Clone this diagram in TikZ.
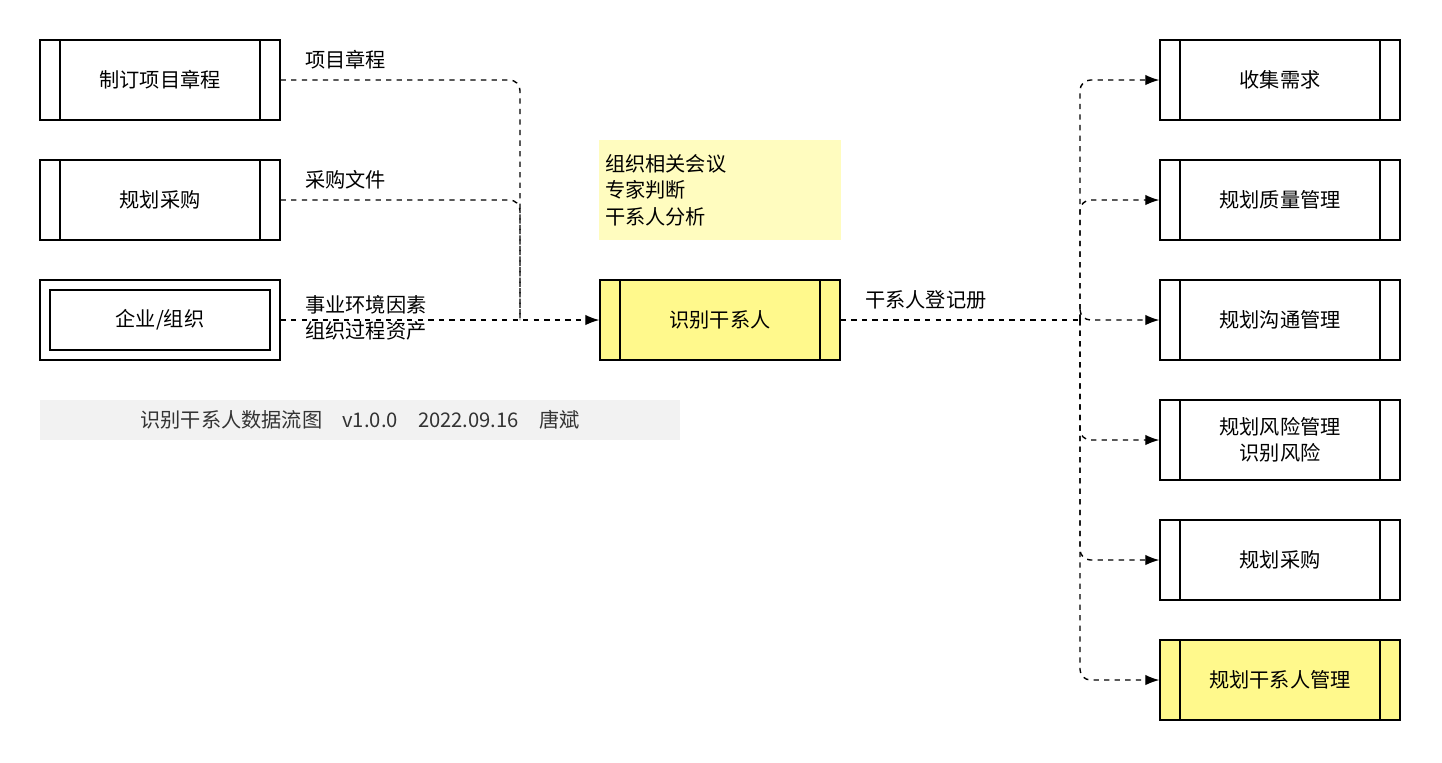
\documentclass[tikz,border=0pt]{standalone}
\usepackage{fontspec}
\setmainfont{Noto Sans CJK SC}
\usetikzlibrary{arrows.meta}

\tikzset{
  procbox/.style={draw, thick, minimum width=4.8cm, minimum height=1.6cm, align=center,
    path picture={
      \draw[thick] ([xshift=0.4cm]path picture bounding box.north west) -- ([xshift=0.4cm]path picture bounding box.south west);
      \draw[thick] ([xshift=-0.4cm]path picture bounding box.north east) -- ([xshift=-0.4cm]path picture bounding box.south east);}},
  hot/.style={fill=yellow!45},
  flow/.style={dashed, thick, rounded corners=6pt, -{Latex[length=8pt,width=6pt]}},
  lbl/.style={anchor=west, align=left, inner sep=0pt}
}

\begin{document}
\begin{tikzpicture}[x=0.02cm, y=-0.02cm, font=\fontsize{11.5}{15}\selectfont]
\useasboundingbox (0,0) rectangle (1442,762);

% inputs
\node[procbox] (charter) at (160,80) {制订项目章程};
\node[procbox] (procure) at (160,200) {规划采购};
\node[draw, thick, minimum width=4.8cm, minimum height=1.6cm] (env) at (160,320) {};
\node[draw, thick, minimum width=4.4cm, minimum height=1.2cm] (envin) at (160,320) {企业/组织};

% process
\node[procbox, hot] (ident) at (720,320) {识别干系人};
\node[fill=yellow!25, minimum width=4.8cm, minimum height=2cm, text width=4.6cm, align=left] (tools) at (720,190)
  {组织相关会议\\专家判断\\干系人分析};

% outputs
\node[procbox] (req) at (1280,80) {收集需求};
\node[procbox] (qual) at (1280,200) {规划质量管理};
\node[procbox] (comm) at (1280,320) {规划沟通管理};
\node[procbox] (risk) at (1280,440) {规划风险管理\\识别风险};
\node[procbox] (proc2) at (1280,560) {规划采购};
\node[procbox, hot] (shm) at (1280,680) {规划干系人管理};

\coordinate (merge) at (520,320);
\coordinate (split) at (1080,320);

\draw[flow, -] (charter.east) -| (merge);
\draw[flow, -] (procure.east) -| (merge);
\draw[flow] (env.east) -- (ident.west);
\draw[flow, -] (ident.east) -- (split);
\foreach \t in {req,qual,comm,risk,proc2,shm}
  \draw[flow] (split) |- (\t.west);

\node[lbl] (l1) at (305,60) {项目章程};
\node[lbl] (l2) at (305,180) {采购文件};
\node[lbl] (l3) at (305,318) {事业环境因素\\组织过程资产};
\node[lbl] (l4) at (865,300) {干系人登记册};

% footer
\node[fill=black!5, minimum width=12.8cm, minimum height=0.8cm, text=black!80] (foot) at (360,420)
  {识别干系人数据流图\quad v1.0.0\quad 2022.09.16\quad 唐斌};
\end{tikzpicture}
\end{document}
